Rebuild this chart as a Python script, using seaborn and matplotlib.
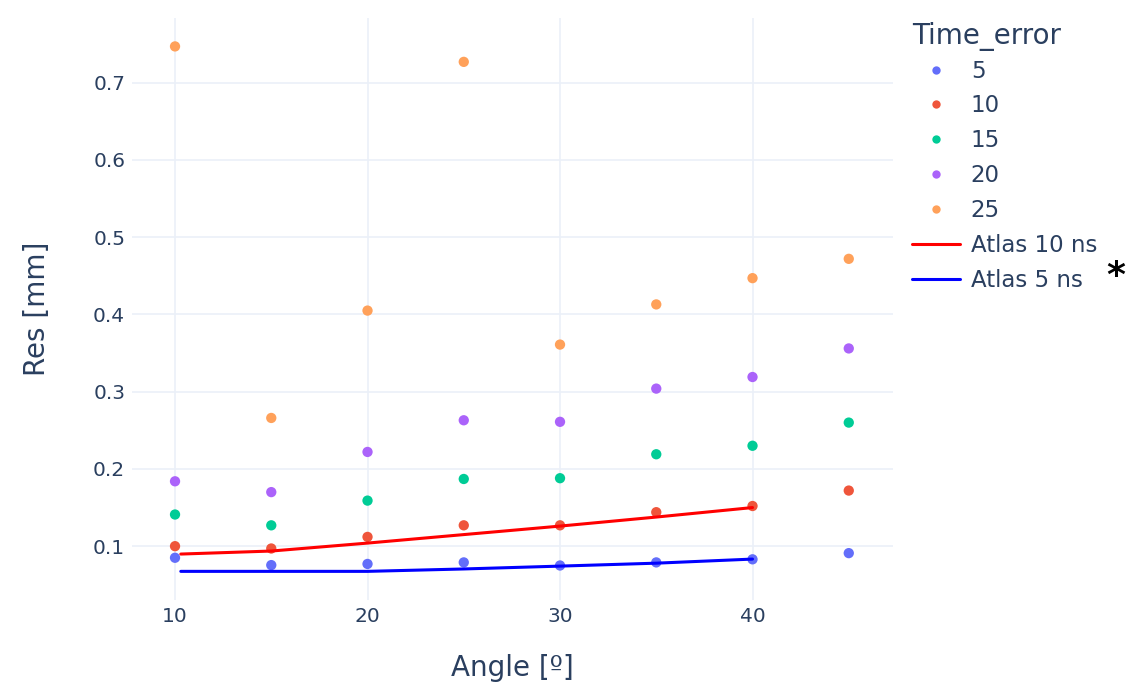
import numpy as np
import pandas as pd
import matplotlib
matplotlib.use("Agg")
import matplotlib.pyplot as plt
import seaborn as sns
from matplotlib.lines import Line2D

# scan points, one list per time error (ns)
angles = [10, 15, 20, 25, 30, 35, 40, 45]
time_errors = [5, 10, 15, 20, 25]
res_5 = [0.085, 0.0755, 0.077, 0.079, 0.075, 0.079, 0.083, 0.091]
res_10 = [0.100, 0.097, 0.112, 0.127, 0.127, 0.144, 0.152, 0.172]
res_15 = [0.141, 0.127, 0.159, 0.187, 0.188, 0.219, 0.230, 0.260]
res_20 = [0.184, 0.170, 0.222, 0.263, 0.261, 0.304, 0.319, 0.356]
res_25 = [0.747, 0.266, 0.405, 0.727, 0.361, 0.413, 0.447, 0.472]

# Atlas reference curves
atlas_angle = [10.3, 15, 20, 25, 30, 35, 40]
atlas_10ns = [0.0898, 0.0937, 0.104, 0.115, 0.126, 0.1377, 0.150]
atlas_5ns = [0.0674, 0.0674, 0.0674, 0.0705, 0.0742, 0.078, 0.0833]

colors = {5: "#636EFA", 10: "#EF553B", 15: "#00CC96", 20: "#AB63FA", 25: "#FFA15A"}
txt = "#2a3f5f"
grid = "#EBF0F8"

rows = []
for te, vals in zip(time_errors, [res_5, res_10, res_15, res_20, res_25]):
    for a, r in zip(angles, vals):
        rows.append({"Angle": a, "Res": r, "Time_error": te})
df = pd.DataFrame(rows)

sns.set_theme(style="white")
plt.rcParams["font.family"] = ["DejaVu Sans"]

fig = plt.figure(figsize=(11.29, 6.86), dpi=100)
ax = fig.add_axes([0.117, 0.125, 0.674, 0.849])

sns.lineplot(x=atlas_angle, y=atlas_10ns, color="red", lw=2.2, ax=ax, zorder=3)
sns.lineplot(x=atlas_angle, y=atlas_5ns, color="blue", lw=2.2, ax=ax, zorder=3)
sns.scatterplot(data=df, x="Angle", y="Res", hue="Time_error", palette=colors,
                s=55, linewidth=0, ax=ax, legend=False, zorder=2)

ax.set_xlim(7.77, 47.3)
ax.set_ylim(0.030, 0.784)
ax.set_xticks([10, 20, 30, 40])
ax.set_yticks([0.1, 0.2, 0.3, 0.4, 0.5, 0.6, 0.7])
ax.grid(True, color=grid, lw=1.2)
ax.set_axisbelow(True)
for sp in ax.spines.values():
    sp.set_visible(False)
ax.tick_params(length=0, labelsize=14.5, labelcolor=txt, pad=5)
ax.set_xlabel("Angle [º]", fontsize=20, color=txt, labelpad=20)
ax.set_ylabel("Res [mm]", fontsize=20, color=txt, labelpad=30)

handles = [Line2D([], [], ls="none", marker="o", ms=6, mew=0, color=colors[t]) for t in time_errors]
handles += [Line2D([], [], color="red", lw=2.2), Line2D([], [], color="blue", lw=2.2)]
labels = [str(t) for t in time_errors] + ["Atlas 10 ns", "Atlas 5 ns"]
leg = fig.legend(handles, labels, title="Time_error", loc="upper left",
                 bbox_to_anchor=(0.800, 0.981), frameon=False, fontsize=16.5,
                 title_fontsize=20, labelspacing=0.52, handlelength=2.1,
                 handletextpad=0.45, borderaxespad=0, alignment="left")
leg._legend_box.sep = 6
for t in leg.get_texts():
    t.set_color(txt)
leg.get_title().set_color(txt)

fig.text(0.988, 0.598, "*", fontsize=26, fontweight="bold", color="black", ha="center", va="center")

fig.savefig("out.png", dpi=100, facecolor="white")
